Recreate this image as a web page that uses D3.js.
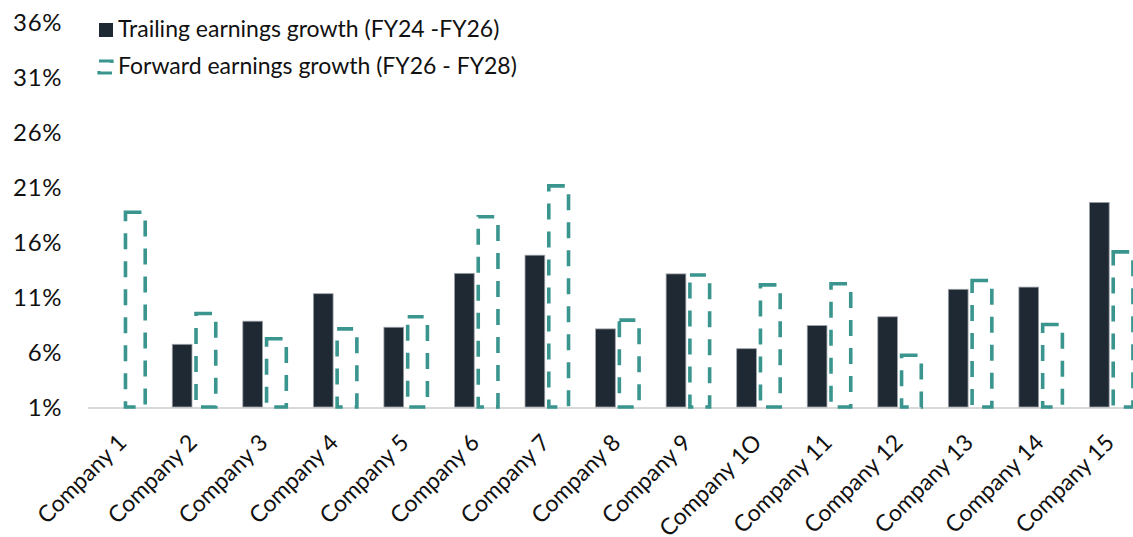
<!DOCTYPE html>
<html>
<head>
<meta charset="utf-8">
<script src="https://cdn.jsdelivr.net/npm/d3@7"></script>
<style>
  html, body { margin: 0; padding: 0; background: #ffffff; }
  svg { display: block; font-family: Lato, "Open Sans", sans-serif; }
</style>
</head>
<body>
<svg id="chart" width="1133" height="537"></svg>
<script>
// Earnings growth by company, in percent
const categories = ["Company 1", "Company 2", "Company 3", "Company 4", "Company 5",
  "Company 6", "Company 7", "Company 8", "Company 9", "Company 1O",
  "Company 11", "Company 12", "Company 13", "Company 14", "Company 15"];
const trailing = [1.0, 6.7, 8.8, 11.3, 8.25, 13.15, 14.8, 8.1, 13.1, 6.3, 8.4, 9.2, 11.7, 11.9, 19.6];
const forward = [18.7, 9.5, 7.2, 8.1, 9.2, 18.3, 21.1, 8.9, 13.0, 12.1, 12.2, 5.7, 12.5, 8.5, 15.1];
const seriesNames = ["Trailing earnings growth (FY24 -FY26)", "Forward earnings growth (FY26 - FY28)"];
const yTicks = [1, 6, 11, 16, 21, 26, 31, 36];

const DARK = "#1f2934";
const TEAL = "#3a958e";
const FONT = 23;

const svg = d3.select("#chart");

const y = d3.scaleLinear().domain([1, 36]).range([407, 22]);
const x0 = d3.scaleBand().domain(categories).range([87.7, 1146]).padding(0);
const x1 = d3.scaleBand().domain(["trailing", "forward"]).range([14, 57.5]).paddingInner(0.17);

const rows = categories.map((c, i) => ({ cat: c, trailing: trailing[i], forward: forward[i] }));

// y-axis labels (no axis line, no gridlines)
const yAxis = d3.axisLeft(y).tickValues(yTicks).tickFormat(d => d + "%").tickSize(0).tickPadding(0);
const yg = svg.append("g").attr("transform", "translate(62,0)").call(yAxis);
yg.select(".domain").remove();
yg.selectAll("text")
  .attr("font-size", 24)
  .attr("font-family", "Lato, sans-serif")
  .attr("letter-spacing", 0.6)
  .attr("fill", "#111")
  .attr("dy", "0.36em");

// baseline
svg.append("line")
  .attr("x1", 88).attr("x2", 1146)
  .attr("y1", y(1) + 1).attr("y2", y(1) + 1)
  .attr("stroke", "#d9d9d9").attr("stroke-width", 2);

// trailing bars
svg.append("g").selectAll("rect")
  .data(rows).join("rect")
  .attr("x", d => x0(d.cat) + x1("trailing"))
  .attr("width", x1.bandwidth())
  .attr("y", d => y(d.trailing))
  .attr("height", d => y(1) - y(d.trailing))
  .attr("fill", DARK)
  .attr("stroke", "#9ea3a9")
  .attr("stroke-width", 0.8);

// forward bars: dashed outline only
svg.append("g").selectAll("rect")
  .data(rows).join("rect")
  .attr("x", d => x0(d.cat) + x1("forward"))
  .attr("width", x1.bandwidth())
  .attr("y", d => y(d.forward))
  .attr("height", d => y(1) - y(d.forward))
  .attr("fill", "none")
  .attr("stroke", TEAL)
  .attr("stroke-width", 3.6)
  .attr("stroke-dasharray", "16 12");

// x-axis labels, rotated
const xAxis = d3.axisBottom(x0).tickSize(0).tickPadding(0);
const xg = svg.append("g").attr("transform", `translate(0,${y(1)})`).call(xAxis);
xg.select(".domain").remove();
xg.selectAll(".tick text")
  .attr("font-size", FONT)
  .attr("font-family", "Lato, sans-serif")
  .attr("fill", "#111")
  .attr("text-anchor", "end")
  .attr("dy", 0)
  .attr("y", 0)
  .attr("transform", "translate(5,37) rotate(-45)");

// legend
const lg = svg.append("g");
lg.append("rect").attr("x", 99).attr("y", 23).attr("width", 14).attr("height", 14).attr("fill", DARK);
lg.append("text").attr("x", 118).attr("y", 37).attr("font-size", FONT).attr("fill", "#111").text(seriesNames[0]);
lg.append("rect").attr("x", 99).attr("y", 61).attr("width", 13).attr("height", 12)
  .attr("fill", "none").attr("stroke", TEAL).attr("stroke-width", 3.2).attr("stroke-dasharray", "15 10");
lg.append("text").attr("x", 118).attr("y", 74).attr("font-size", FONT).attr("fill", "#111").text(seriesNames[1]);
</script>
</body>
</html>
